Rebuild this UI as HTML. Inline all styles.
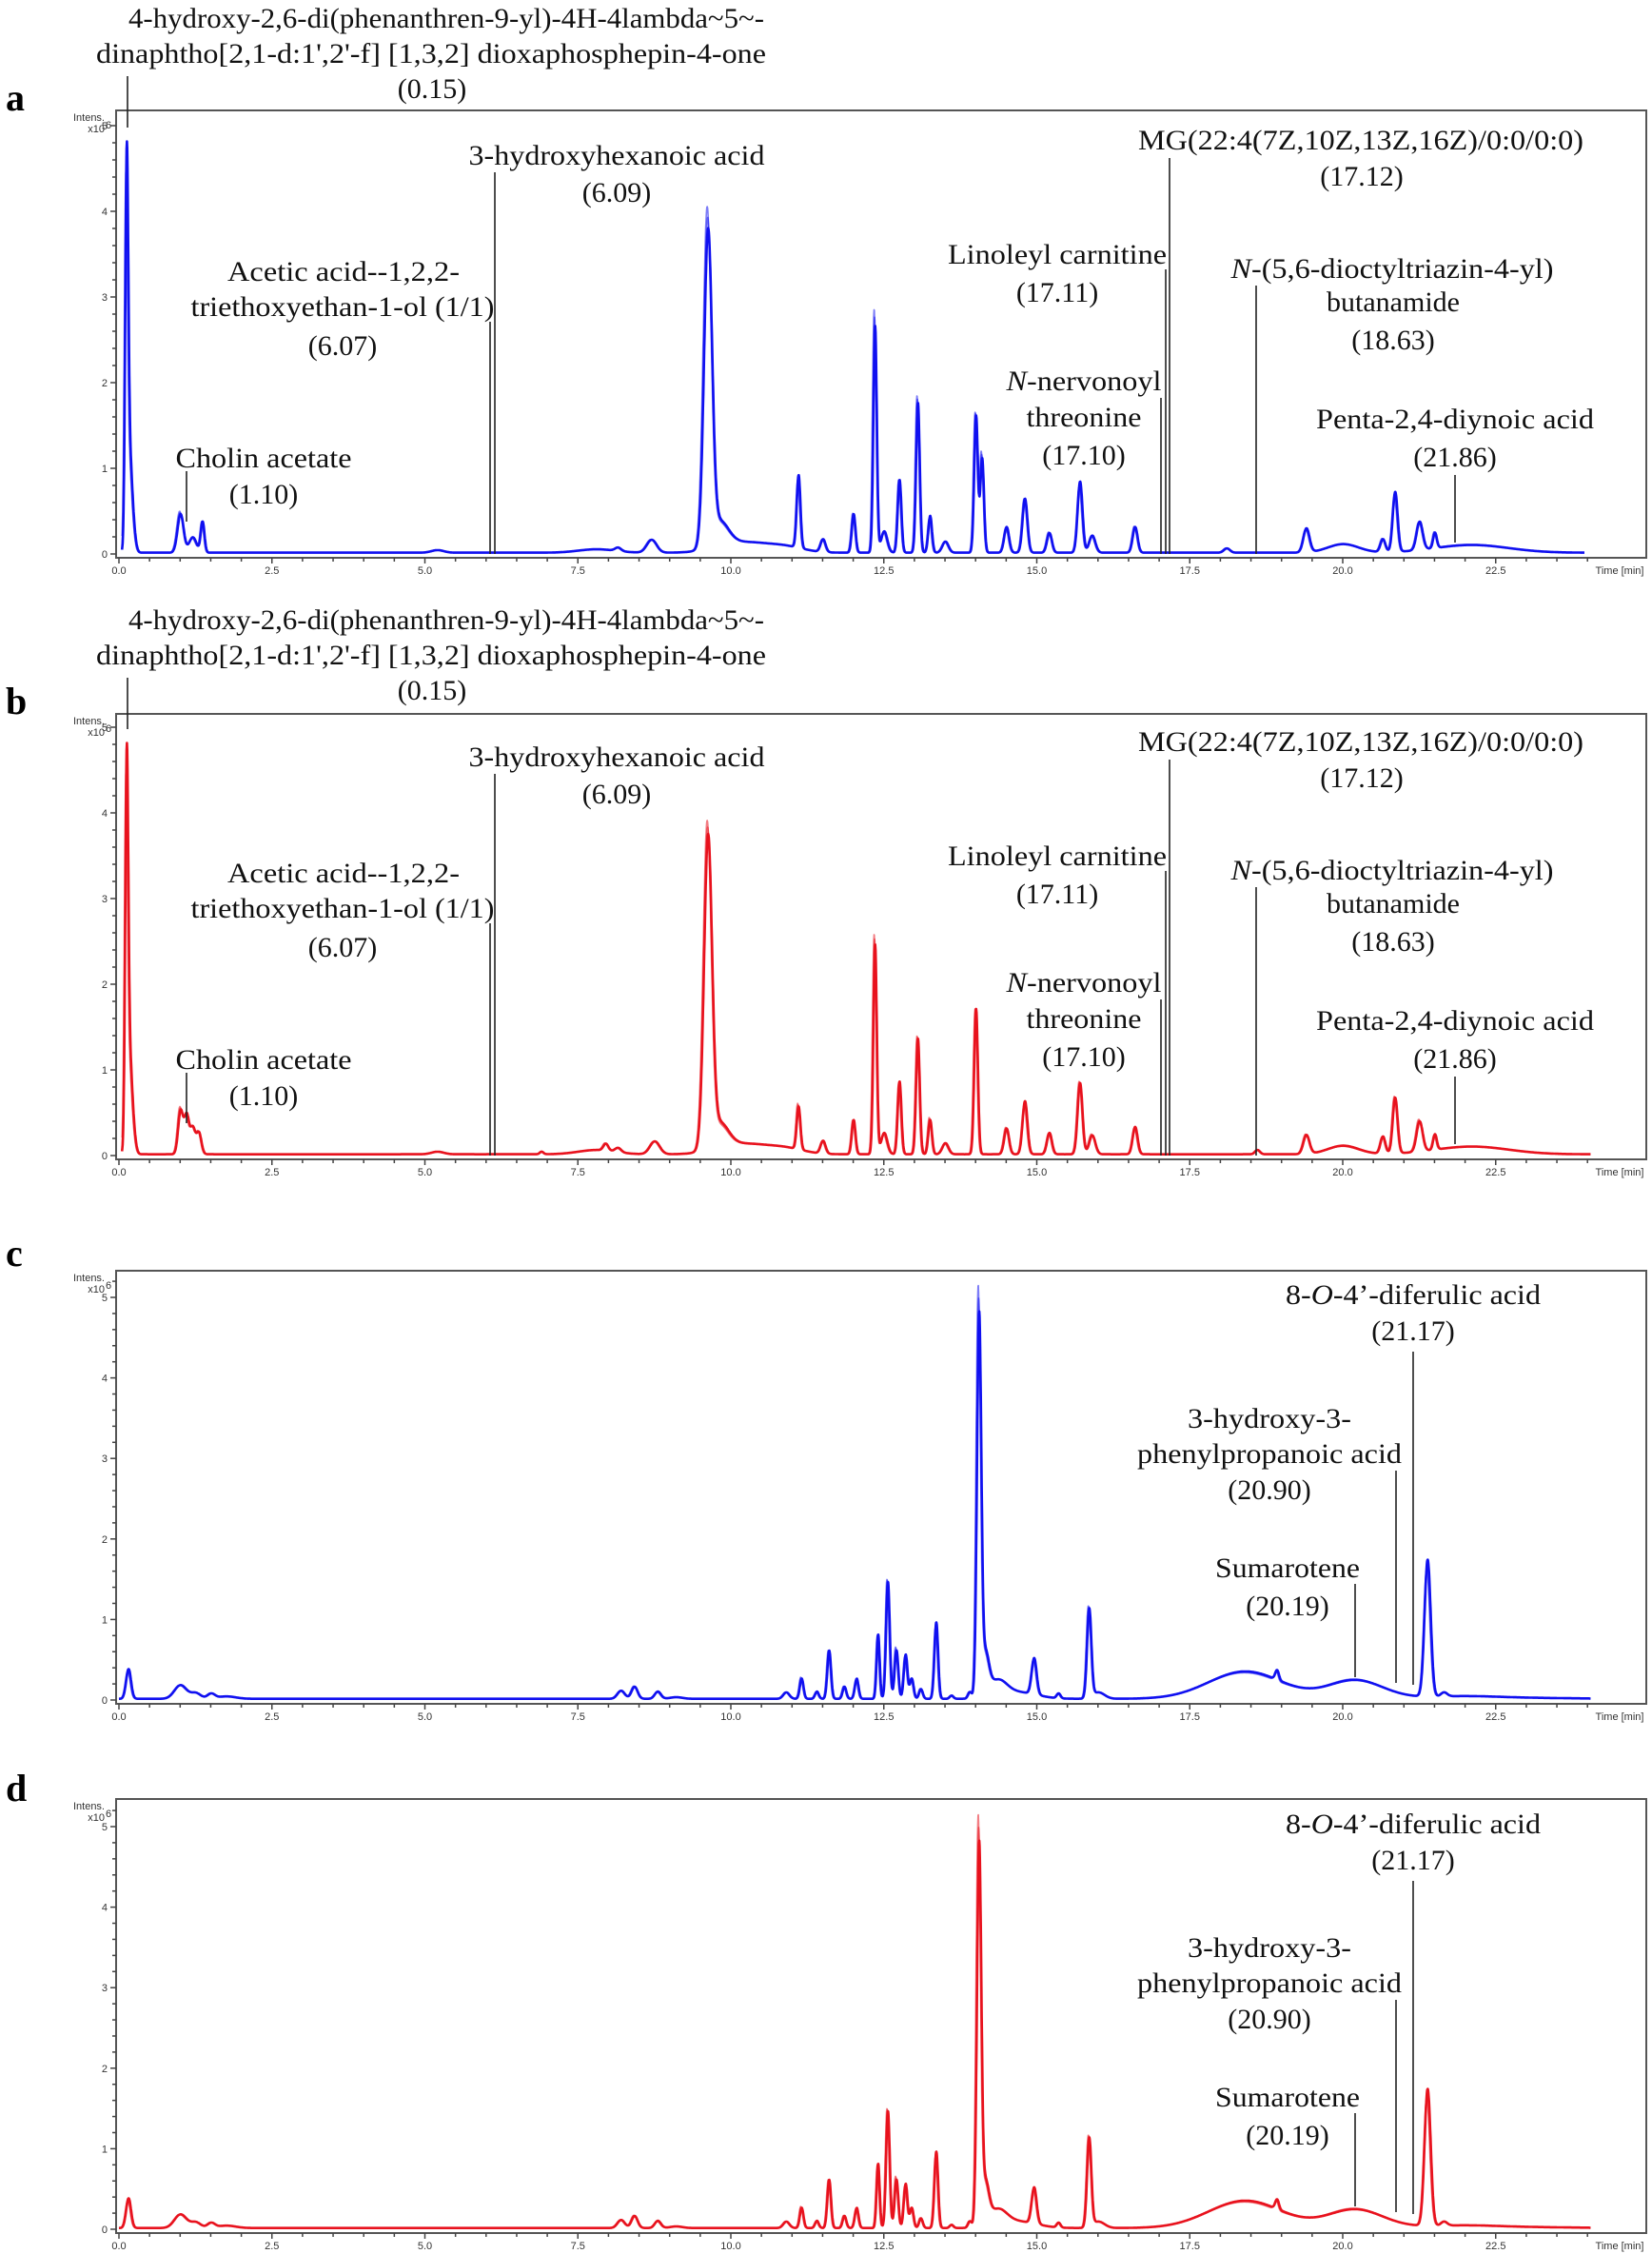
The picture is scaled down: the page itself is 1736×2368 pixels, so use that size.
<!DOCTYPE html>
<html><head><meta charset="utf-8">
<style>
html,body{margin:0;padding:0;background:#fff;}
svg{display:block;}
.lb{font-family:"Liberation Serif",serif;font-size:30px;fill:#111;}
.pl{font-family:"Liberation Serif",serif;font-size:40px;font-weight:bold;fill:#000;}
.tk{font-family:"Liberation Sans",sans-serif;font-size:11px;fill:#333;}
</style></head><body>
<svg id="s" width="1736" height="2368" viewBox="0 0 1736 2368" xmlns="http://www.w3.org/2000/svg">
<g id="g"></g>
<text class="pl" x="6" y="116">a</text>
<text class="pl" x="6" y="750">b</text>
<text class="pl" x="6" y="1330">c</text>
<text class="pl" x="6" y="1892">d</text>

<g id="la">
<text class="lb" x="469" y="29" text-anchor="middle" textLength="668" lengthAdjust="spacingAndGlyphs">4-hydroxy-2,6-di(phenanthren-9-yl)-4H-4lambda~5~-</text>
<text class="lb" x="453" y="66" text-anchor="middle" textLength="704" lengthAdjust="spacingAndGlyphs">dinaphtho[2,1-d:1',2'-f] [1,3,2] dioxaphosphepin-4-one</text>
<text class="lb" x="454" y="103" text-anchor="middle">(0.15)</text>
<text class="lb" x="648" y="173" text-anchor="middle" textLength="311" lengthAdjust="spacingAndGlyphs">3-hydroxyhexanoic acid</text>
<text class="lb" x="648" y="212" text-anchor="middle">(6.09)</text>
<text class="lb" x="361" y="295" text-anchor="middle" textLength="244" lengthAdjust="spacingAndGlyphs">Acetic acid--1,2,2-</text>
<text class="lb" x="360" y="332" text-anchor="middle" textLength="319" lengthAdjust="spacingAndGlyphs">triethoxyethan-1-ol (1/1)</text>
<text class="lb" x="360" y="373" text-anchor="middle">(6.07)</text>
<text class="lb" x="277" y="491" text-anchor="middle" textLength="185" lengthAdjust="spacingAndGlyphs">Cholin acetate</text>
<text class="lb" x="277" y="529" text-anchor="middle">(1.10)</text>
<text class="lb" x="1430" y="157" text-anchor="middle" textLength="468" lengthAdjust="spacingAndGlyphs">MG(22:4(7Z,10Z,13Z,16Z)/0:0/0:0)</text>
<text class="lb" x="1431" y="195" text-anchor="middle">(17.12)</text>
<text class="lb" x="1111" y="277" text-anchor="middle" textLength="230" lengthAdjust="spacingAndGlyphs">Linoleyl carnitine</text>
<text class="lb" x="1111" y="317" text-anchor="middle">(17.11)</text>
<text class="lb" x="1139" y="410" text-anchor="middle" textLength="163" lengthAdjust="spacingAndGlyphs"><tspan font-style="italic">N</tspan>-nervonoyl</text>
<text class="lb" x="1139" y="448" text-anchor="middle" textLength="121" lengthAdjust="spacingAndGlyphs">threonine</text>
<text class="lb" x="1139" y="488" text-anchor="middle">(17.10)</text>
<text class="lb" x="1463" y="292" text-anchor="middle" textLength="339" lengthAdjust="spacingAndGlyphs"><tspan font-style="italic">N</tspan>-(5,6-dioctyltriazin-4-yl)</text>
<text class="lb" x="1464" y="327" text-anchor="middle">butanamide</text>
<text class="lb" x="1464" y="367" text-anchor="middle">(18.63)</text>
<text class="lb" x="1529" y="450" text-anchor="middle" textLength="292" lengthAdjust="spacingAndGlyphs">Penta-2,4-diynoic acid</text>
<text class="lb" x="1529" y="490" text-anchor="middle">(21.86)</text>
</g>

<g id="lc">
<text class="lb" x="1485" y="1370" text-anchor="middle" textLength="268" lengthAdjust="spacingAndGlyphs">8-<tspan font-style="italic">O</tspan>-4’-diferulic acid</text>
<text class="lb" x="1485" y="1408" text-anchor="middle">(21.17)</text>
<text class="lb" x="1334" y="1500" text-anchor="middle" textLength="172" lengthAdjust="spacingAndGlyphs">3-hydroxy-3-</text>
<text class="lb" x="1334" y="1537" text-anchor="middle" textLength="278" lengthAdjust="spacingAndGlyphs">phenylpropanoic acid</text>
<text class="lb" x="1334" y="1575" text-anchor="middle">(20.90)</text>
<text class="lb" x="1353" y="1657" text-anchor="middle" textLength="152" lengthAdjust="spacingAndGlyphs">Sumarotene</text>
<text class="lb" x="1353" y="1697" text-anchor="middle">(20.19)</text>
</g>
</svg>
<script>
(function(){
var NS="http://www.w3.org/2000/svg";
var s=document.getElementById('s');
var g=document.getElementById('g');
function el(t,a,p){var e=document.createElementNS(NS,t);for(var k in a)e.setAttribute(k,a[k]);(p||g).appendChild(e);return e;}
function X(t){return 125+64.3*t;}
var la=document.getElementById('la');var lb=la.cloneNode(true);lb.setAttribute('transform','translate(0,632)');s.appendChild(lb);
var lc=document.getElementById('lc');var ld=lc.cloneNode(true);ld.setAttribute('transform','translate(0,556)');s.appendChild(ld);

function panel(o){
  var top=o.top,zero=o.zero,u=o.unit,ax=zero+4,L=122,R=1730;
  el('rect',{x:L,y:top,width:R-L,height:ax-top,fill:'none',stroke:'#555','stroke-width':2});
  for(var v=0;v<=5.41;v+=0.2){
    var y=zero-v*u;if(y<top+2)continue;
    var major=Math.abs(v-Math.round(v))<0.01;
    el('line',{x1:L-(major?6:4),x2:L,y1:y,y2:y,stroke:'#444','stroke-width':1.5});
    if(major){var t=el('text',{x:L-9,y:y+4,'text-anchor':'end','class':'tk'});t.textContent=Math.round(v);}
  }
  var t1=el('text',{x:L-12,y:top+11,'text-anchor':'end','class':'tk','font-size':'10'});t1.textContent='Intens.';
  var t2=el('text',{x:L-12,y:top+23,'text-anchor':'end','class':'tk','font-size':'10'});t2.textContent='x10';
  var t3=el('text',{x:L-11,y:top+19,'text-anchor':'start','class':'tk','font-size':'8'});t3.textContent='6';
  for(var m=0;m<=24.01;m+=0.5){
    var x=X(m);var maj=Math.abs(m/2.5-Math.round(m/2.5))<0.01;
    el('line',{x1:x,x2:x,y1:ax,y2:ax+(maj?6:4),stroke:'#444','stroke-width':1.5});
    if(maj&&m<23){var tt=el('text',{x:x,y:ax+17,'text-anchor':'middle','class':'tk'});tt.textContent=m.toFixed(1);}
  }
  var tm=el('text',{x:1702,y:ax+17,'text-anchor':'middle','class':'tk','font-size':'10'});tm.textContent='Time [min]';
  function f(t,k){
    var v=o.base||0.015;
    for(var i=0;i<o.peaks.length;i++){var p=o.peaks[i];var h=p[1]*(1+(k?(((i*37)%7)-3)*0.012*k:0));var d=(t-p[0])/p[2];if(Math.abs(d)<6)v+=h*Math.exp(-0.5*d*d);}
    return v;
  }
  for(var k=0;k<3;k++){
    var d='';
    for(var t=o.t0;t<=o.t1;t+=0.005){
      var y=zero-f(t+(k-1)*0.008,k)*u;
      if(y<top+3)y=top+3;
      d+=(d?'L':'M')+X(t).toFixed(1)+','+y.toFixed(1);
    }
    el('path',{d:d,fill:'none',stroke:o.color,'stroke-width':k==0?2.6:1.6,'stroke-opacity':k==0?1:0.55,'stroke-linejoin':'round'});
  }
  (o.lines||[]).forEach(function(l){el('line',{x1:l[0],x2:l[0],y1:l[1],y2:l[2],stroke:'#222','stroke-width':1.6});});
}

var pa=[[0.12,4.45,0.025],[0.17,0.9,0.035],[0.22,0.3,0.04],[1.0,0.45,0.05],[1.2,0.18,0.06],[1.36,0.36,0.03],[5.2,0.03,0.1],[7.8,0.04,0.3],[8.15,0.04,0.05],[8.7,0.15,0.08],
[9.62,3.6,0.065],[9.8,0.3,0.15],[10.2,0.12,0.4],[10.9,0.06,0.3],
[11.1,0.85,0.03],[11.5,0.15,0.04],[12.0,0.45,0.03],[12.35,2.65,0.028],[12.5,0.25,0.05],[12.75,0.85,0.03],[13.05,1.75,0.03],[13.25,0.43,0.03],[13.5,0.13,0.05],[14.0,1.6,0.03],[14.1,1.1,0.03],[14.5,0.3,0.04],[14.8,0.63,0.04],[15.2,0.23,0.04],[15.7,0.83,0.04],[15.9,0.2,0.05],[16.6,0.3,0.04],[18.1,0.05,0.05],[19.4,0.28,0.05],[20.0,0.1,0.25],[20.65,0.15,0.04],[20.85,0.7,0.04],[21.25,0.33,0.05],[21.5,0.18,0.03],[22.1,0.09,0.6]];
var pb=[[0.12,4.45,0.025],[0.17,0.9,0.035],[0.22,0.3,0.04],[1.0,0.5,0.04],[1.1,0.45,0.04],[1.2,0.3,0.04],[1.3,0.25,0.04],[5.2,0.03,0.1],[6.9,0.03,0.03],[7.8,0.05,0.3],[7.95,0.08,0.04],[8.15,0.05,0.05],[8.75,0.15,0.08],
[9.62,3.55,0.065],[9.8,0.3,0.15],[10.2,0.12,0.4],[10.9,0.06,0.3],
[11.1,0.5,0.03],[11.5,0.15,0.04],[12.0,0.4,0.03],[12.35,2.45,0.028],[12.5,0.25,0.05],[12.75,0.85,0.03],[13.05,1.35,0.03],[13.25,0.4,0.03],[13.5,0.13,0.05],[14.0,1.7,0.03],[14.5,0.3,0.04],[14.8,0.62,0.04],[15.2,0.25,0.04],[15.7,0.83,0.04],[15.9,0.22,0.05],[16.6,0.32,0.04],[18.6,0.05,0.04],[19.4,0.22,0.05],[20.0,0.1,0.25],[20.65,0.2,0.04],[20.85,0.65,0.04],[21.25,0.35,0.05],[21.5,0.18,0.03],[22.1,0.09,0.6]];
var pc=[[0.15,0.37,0.04],[1.0,0.17,0.1],[1.25,0.07,0.08],[1.5,0.06,0.06],[1.75,0.03,0.15],[8.2,0.1,0.06],[8.42,0.15,0.05],[8.8,0.09,0.05],[9.1,0.02,0.1],
[10.9,0.08,0.05],[11.15,0.25,0.03],[11.4,0.09,0.03],[11.6,0.6,0.03],[11.85,0.15,0.03],[12.05,0.25,0.03],[12.4,0.8,0.025],[12.56,1.45,0.03],[12.7,0.6,0.03],[12.85,0.55,0.03],[12.95,0.25,0.03],[13.1,0.12,0.03],[13.35,0.95,0.03],[13.6,0.04,0.03],[13.9,0.08,0.03],
[14.05,4.65,0.035],[14.15,0.5,0.06],[14.35,0.2,0.15],[14.7,0.08,0.3],[14.95,0.45,0.04],[15.35,0.06,0.03],[15.85,1.1,0.035],[16.0,0.08,0.1],[18.4,0.34,0.6],[18.92,0.12,0.03],[20.2,0.23,0.45],[21.38,1.7,0.05],[21.65,0.05,0.05],[21.9,0.03,0.6],[23.0,0.01,0.8]];
var pd=pc.map(function(p){return p.slice();});
panel({top:116,zero:582,unit:90,color:'#1010f0',peaks:pa,t0:0.05,t1:23.95,
 lines:[[134,80,134],[520,181,582],[515,338,582],[196,495,548],[1229,166,582],[1225,283,582],[1220,418,582],[1320,300,582],[1529,499,570]]});
panel({top:750,zero:1214,unit:90,color:'#e8121e',peaks:pb,t0:0.05,t1:24.05,
 lines:[[134,712,766],[520,813,1214],[515,970,1214],[196,1127,1180],[1229,798,1214],[1225,915,1214],[1220,1050,1214],[1320,932,1214],[1529,1131,1202]]});
panel({top:1335,zero:1786,unit:84.6,color:'#1010f0',peaks:pc,t0:0.0,t1:24.05,
 lines:[[1485,1420,1770],[1467,1545,1768],[1424,1664,1762]]});
panel({top:1890,zero:2342,unit:84.6,color:'#e8121e',peaks:pd,t0:0.0,t1:24.05,
 lines:[[1485,1976,2326],[1467,2101,2324],[1424,2220,2318]]});
})();
</script>
</body></html>
